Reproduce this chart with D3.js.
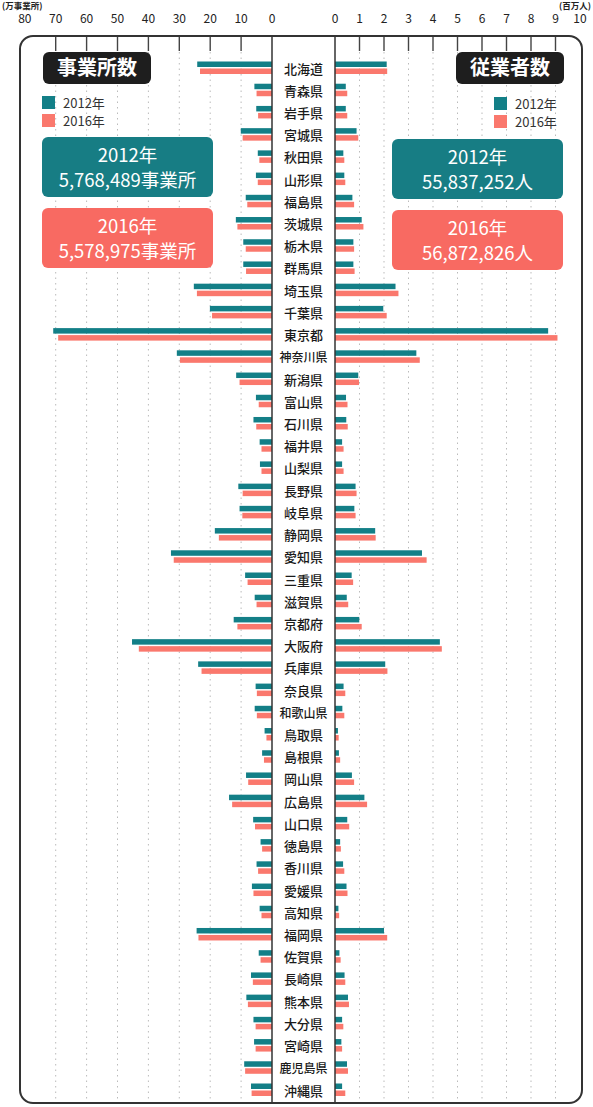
<!DOCTYPE html>
<html>
<head>
<meta charset="utf-8">
<script src="https://cdn.jsdelivr.net/npm/d3@7"></script>
<style>
  body { margin: 0; background: #fff; }
  text { font-family: "Noto Sans CJK JP", "Noto Sans", sans-serif; }
</style>
</head>
<body>
<div id="chart"></div>
<script>
const width = 593;
const height = 1107;

const prefectures = ["北海道","青森県","岩手県","宮城県","秋田県","山形県","福島県","茨城県","栃木県","群馬県",
  "埼玉県","千葉県","東京都","神奈川県","新潟県","富山県","石川県","福井県","山梨県","長野県",
  "岐阜県","静岡県","愛知県","三重県","滋賀県","京都府","大阪府","兵庫県","奈良県","和歌山県",
  "鳥取県","島根県","岡山県","広島県","山口県","徳島県","香川県","愛媛県","高知県","福岡県",
  "佐賀県","長崎県","熊本県","大分県","宮崎県","鹿児島県","沖縄県"];

// 事業所数 (万事業所)
const estab2012 = [24.2,5.7,5.1,10.1,4.6,5.2,8.5,11.7,9.3,9.3,
  25.3,20.1,70.8,30.8,11.6,5.2,6.0,4.0,3.9,10.9,
  10.5,18.5,32.7,8.7,5.6,12.4,45.3,23.9,5.3,5.6,
  2.4,3.2,8.4,13.9,6.1,3.7,5.0,6.5,4.0,24.4,
  4.3,6.8,8.3,6.0,5.8,9.0,6.8];
const estab2016 = [23.3,5.0,4.5,9.5,4.1,4.6,8.0,11.2,8.5,8.4,
  24.3,19.4,69.2,29.8,10.5,4.3,5.1,3.4,3.4,9.5,
  9.6,17.2,31.8,7.9,5.0,11.2,43.1,22.8,4.9,4.9,
  1.8,2.6,7.7,12.9,5.5,3.2,4.5,6.0,3.4,23.8,
  3.7,6.2,7.8,5.3,5.3,8.7,6.6];

// 従業者数 (百万人)
const emp2012 = [2.11,0.44,0.44,0.88,0.34,0.38,0.71,1.09,0.75,0.75,
  2.47,1.97,8.70,3.32,0.95,0.45,0.46,0.29,0.29,0.84,
  0.79,1.64,3.55,0.68,0.48,0.99,4.28,2.05,0.35,0.30,
  0.12,0.16,0.69,1.20,0.50,0.21,0.33,0.47,0.14,2.00,
  0.18,0.39,0.53,0.29,0.26,0.49,0.29];
const emp2016 = [2.13,0.50,0.50,0.95,0.38,0.42,0.78,1.16,0.78,0.80,
  2.59,2.11,9.08,3.46,0.98,0.51,0.52,0.35,0.35,0.88,
  0.84,1.66,3.74,0.74,0.54,1.09,4.36,2.14,0.42,0.38,
  0.15,0.21,0.78,1.31,0.58,0.24,0.38,0.51,0.17,2.13,
  0.23,0.42,0.57,0.34,0.29,0.53,0.42];

const leftTicks = [80,70,60,50,40,30,20,10,0];
const rightTicks = [0,1,2,3,4,5,6,7,8,9,10];
const years = ["2012年","2016年"];
const estabTotals = ["5,768,489事業所","5,578,975事業所"];
const empTotals = ["55,837,252人","56,872,826人"];

const teal = "#137f87";
const salmon = "#fa786d";
const boxTeal = "#177d84";
const boxSalmon = "#f86a62";

const frame = {x0: 20, x1: 582, y0: 36, y1: 1103};
const boxL = 272, boxR = 335;

const svg = d3.select("#chart").append("svg")
  .attr("width", width)
  .attr("height", height);

const xL = d3.scaleLinear().domain([0, 80]).range([boxL, 24.8]);
const xR = d3.scaleLinear().domain([0, 10]).range([boxR, 580]);
const y = d3.scalePoint().domain(prefectures).range([69, 1091]);

// dotted grid lines
svg.append("g").selectAll("line")
  .data(leftTicks.filter(d => d > 0 && d < 80))
  .join("line")
  .attr("x1", d => xL(d)).attr("x2", d => xL(d))
  .attr("y1", 52).attr("y2", frame.y1 - 4)
  .attr("stroke", "#bbb").attr("stroke-width", 1)
  .attr("stroke-dasharray", "1.5,4");
svg.append("g").selectAll("line")
  .data(rightTicks.filter(d => d > 0 && d < 10))
  .join("line")
  .attr("x1", d => xR(d)).attr("x2", d => xR(d))
  .attr("y1", 52).attr("y2", frame.y1 - 4)
  .attr("stroke", "#bbb").attr("stroke-width", 1)
  .attr("stroke-dasharray", "1.5,4");

// top tick marks
svg.append("g").selectAll("line")
  .data(leftTicks.filter(d => d > 0 && d < 80))
  .join("line")
  .attr("x1", d => xL(d)).attr("x2", d => xL(d))
  .attr("y1", frame.y0).attr("y2", 51)
  .attr("stroke", "#444").attr("stroke-width", 1.4);
svg.append("g").selectAll("line")
  .data(rightTicks.filter(d => d > 0 && d < 10))
  .join("line")
  .attr("x1", d => xR(d)).attr("x2", d => xR(d))
  .attr("y1", frame.y0).attr("y2", 51)
  .attr("stroke", "#444").attr("stroke-width", 1.4);

// tick labels
svg.append("g").selectAll("text")
  .data(leftTicks)
  .join("text")
  .attr("x", d => xL(d)).attr("y", 23)
  .attr("text-anchor", "middle")
  .attr("font-size", 12).attr("fill", "#222")
  .text(d => d);
svg.append("g").selectAll("text")
  .data(rightTicks)
  .join("text")
  .attr("x", d => xR(d)).attr("y", 23)
  .attr("text-anchor", "middle")
  .attr("font-size", 12).attr("fill", "#222")
  .text(d => d);
svg.append("text").attr("x", 2).attr("y", 9)
  .attr("font-size", 8.5).attr("font-weight", 700).attr("fill", "#222")
  .text("(万事業所)");
svg.append("text").attr("x", 591).attr("y", 9)
  .attr("text-anchor", "end")
  .attr("font-size", 8.5).attr("font-weight", 700).attr("fill", "#222")
  .text("(百万人)");

// bars
const barH = 5.5;
const drawBars = (vals, scale, side, color, dy) => {
  svg.append("g").selectAll("rect")
    .data(vals)
    .join("rect")
    .attr("x", d => side === "L" ? scale(d) : boxR)
    .attr("y", (d, i) => y(prefectures[i]) + dy)
    .attr("width", d => side === "L" ? boxL - scale(d) : scale(d) - boxR)
    .attr("height", barH)
    .attr("fill", color);
};
drawBars(estab2012, xL, "L", teal, -7.5);
drawBars(estab2016, xL, "L", salmon, -0.5);
drawBars(emp2012, xR, "R", teal, -7.5);
drawBars(emp2016, xR, "R", salmon, -0.5);

// centre label column
svg.append("rect")
  .attr("x", boxL).attr("y", frame.y0)
  .attr("width", boxR - boxL).attr("height", frame.y1 - frame.y0)
  .attr("fill", "#fff");
svg.append("line").attr("x1", boxL).attr("x2", boxL)
  .attr("y1", frame.y0).attr("y2", frame.y1)
  .attr("stroke", "#333").attr("stroke-width", 1.5);
svg.append("line").attr("x1", boxR).attr("x2", boxR)
  .attr("y1", frame.y0).attr("y2", frame.y1)
  .attr("stroke", "#333").attr("stroke-width", 1.5);
svg.append("g").selectAll("text")
  .data(prefectures)
  .join("text")
  .attr("x", (boxL + boxR) / 2)
  .attr("y", d => y(d) + 4.5)
  .attr("text-anchor", "middle")
  .attr("font-size", d => d.length > 3 ? 12 : 13)
  .attr("font-weight", 500)
  .attr("fill", "#1a1a1a")
  .text(d => d);

// frame
svg.append("rect")
  .attr("x", frame.x0).attr("y", frame.y0)
  .attr("width", frame.x1 - frame.x0).attr("height", frame.y1 - frame.y0)
  .attr("rx", 13)
  .attr("fill", "none").attr("stroke", "#333").attr("stroke-width", 2);

// titles
const title = (x, text) => {
  svg.append("rect").attr("x", x).attr("y", 52)
    .attr("width", 108).attr("height", 32).attr("rx", 6)
    .attr("fill", "#1e1e1e");
  svg.append("text").attr("x", x + 54).attr("y", 75)
    .attr("text-anchor", "middle")
    .attr("font-size", 20).attr("font-weight", 700).attr("fill", "#fff")
    .text(text);
};
title(43, "事業所数");
title(456, "従業者数");

// legends
const legend = (x, ly) => {
  [teal, salmon].forEach((c, i) => {
    svg.append("rect").attr("x", x).attr("y", ly + i * 18)
      .attr("width", 13).attr("height", 13).attr("fill", c);
    svg.append("text").attr("x", x + 21).attr("y", ly + i * 18 + 11.5)
      .attr("font-size", 13).attr("fill", "#333")
      .text(years[i]);
  });
};
legend(42, 96);
legend(494, 97);

// total boxes
const totalBox = (x, by, w, color, yr, total) => {
  svg.append("rect").attr("x", x).attr("y", by)
    .attr("width", w).attr("height", 60).attr("rx", 6)
    .attr("fill", color);
  svg.append("text").attr("x", x + w / 2).attr("y", by + 25)
    .attr("text-anchor", "middle")
    .attr("font-size", 18.5).attr("font-weight", 400).attr("fill", "#fff")
    .text(yr);
  svg.append("text").attr("x", x + w / 2).attr("y", by + 50)
    .attr("text-anchor", "middle")
    .attr("font-size", 18.5).attr("font-weight", 400).attr("fill", "#fff")
    .text(total);
};
totalBox(42, 137, 171, boxTeal, years[0], estabTotals[0]);
totalBox(42, 208, 171, boxSalmon, years[1], estabTotals[1]);
totalBox(392, 139, 171, boxTeal, years[0], empTotals[0]);
totalBox(392, 210, 171, boxSalmon, years[1], empTotals[1]);
</script>
</body>
</html>
